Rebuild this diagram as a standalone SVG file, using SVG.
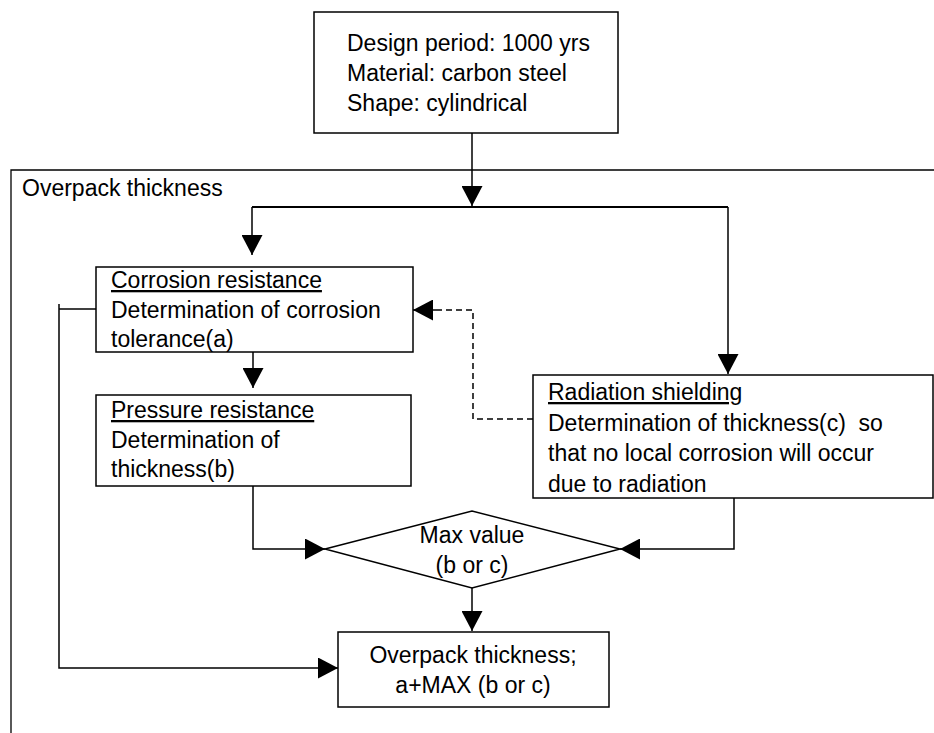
<svg xmlns="http://www.w3.org/2000/svg" width="934" height="733" viewBox="0 0 934 733">
  <style>
    .box { fill: #ffffff; stroke: #000000; stroke-width: 1.5; }
    .frame { fill: none; stroke: #000000; stroke-width: 1.3; }
    .txt { font-family: "Liberation Sans", Arial, sans-serif; font-size: 23px; fill: #000000; }
    .mid { text-anchor: middle; }
    .ul { text-decoration: underline; }
    .link { fill: none; stroke: #000000; stroke-width: 1.5; }
    .thick { stroke-width: 2; }
    .dash { fill: none; stroke: #000000; stroke-width: 1.5; stroke-dasharray: 6 4; }
  </style>
  <defs>
    <marker id="arrow" markerUnits="userSpaceOnUse" markerWidth="20" markerHeight="21" refX="20" refY="10.5" orient="auto">
      <path d="M0,0 L20,10.5 L0,21 Z" fill="#000000"/>
    </marker>
  </defs>

  <rect width="934" height="733" fill="#ffffff"/>

  <!-- enclosing frame -->
  <g id="frame">
    <path class="frame" d="M11,733 V170 H934"/>
    <text class="txt" x="22" y="196">Overpack thickness</text>
  </g>

  <!-- design inputs -->
  <g id="inputs">
    <rect class="box" x="314" y="12" width="304" height="121"/>
    <text class="txt" x="347" y="51">Design period: 1000 yrs</text>
    <text class="txt" x="347" y="81">Material: carbon steel</text>
    <text class="txt" x="347" y="111">Shape: cylindrical</text>
  </g>

  <g id="corrosion">
    <rect class="box" x="96" y="267" width="317" height="85"/>
    <text class="txt ul" x="111" y="288">Corrosion resistance</text>
    <text class="txt" x="111" y="318">Determination of corrosion</text>
    <text class="txt" x="111" y="347">tolerance(a)</text>
  </g>

  <g id="pressure">
    <rect class="box" x="96" y="395" width="315" height="91"/>
    <text class="txt ul" x="111" y="418">Pressure resistance</text>
    <text class="txt" x="111" y="448">Determination of</text>
    <text class="txt" x="111" y="477">thickness(b)</text>
  </g>

  <g id="radiation">
    <rect class="box" x="533" y="375" width="400" height="123"/>
    <text class="txt ul" x="548" y="400">Radiation shielding</text>
    <text class="txt" x="548" y="431" xml:space="preserve">Determination of thickness(c)  so</text>
    <text class="txt" x="548" y="461">that no local corrosion will occur</text>
    <text class="txt" x="548" y="492">due to radiation</text>
  </g>

  <g id="max-value">
    <polygon class="box" points="325,549 472,511 620,549 472,588"/>
    <text class="txt mid" x="472" y="543">Max value</text>
    <text class="txt mid" x="472" y="573">(b or c)</text>
  </g>

  <g id="result">
    <rect class="box" x="338" y="632" width="271" height="75"/>
    <text class="txt mid" x="473" y="663">Overpack thickness;</text>
    <text class="txt mid" x="473" y="693">a+MAX (b or c)</text>
  </g>

  <g id="connectors">
    <!-- inputs down to the branch line -->
    <path class="link" d="M472,133 V206" marker-end="url(#arrow)"/>
    <path class="link thick" d="M252,207 H728"/>
    <path class="link" d="M252,207 V255" marker-end="url(#arrow)"/>
    <path class="link" d="M728,207 V374" marker-end="url(#arrow)"/>
    <!-- corrosion to pressure -->
    <path class="link" d="M253,352 V388" marker-end="url(#arrow)"/>
    <!-- radiation feeds back to corrosion -->
    <path class="dash" d="M533,419 H473 V310 H434"/>
    <path class="link" d="M436,310 H413" marker-end="url(#arrow)"/>
    <!-- corrosion tolerance straight to result -->
    <path class="link" d="M96,309 H59"/>
    <path class="link" d="M59,304 V668 H338" marker-end="url(#arrow)"/>
    <!-- pressure and radiation into max value -->
    <path class="link" d="M253,486 V549 H325" marker-end="url(#arrow)"/>
    <path class="link" d="M734,498 V549 H620" marker-end="url(#arrow)"/>
    <!-- max value to result -->
    <path class="link" d="M472,588 V631" marker-end="url(#arrow)"/>
  </g>
</svg>
